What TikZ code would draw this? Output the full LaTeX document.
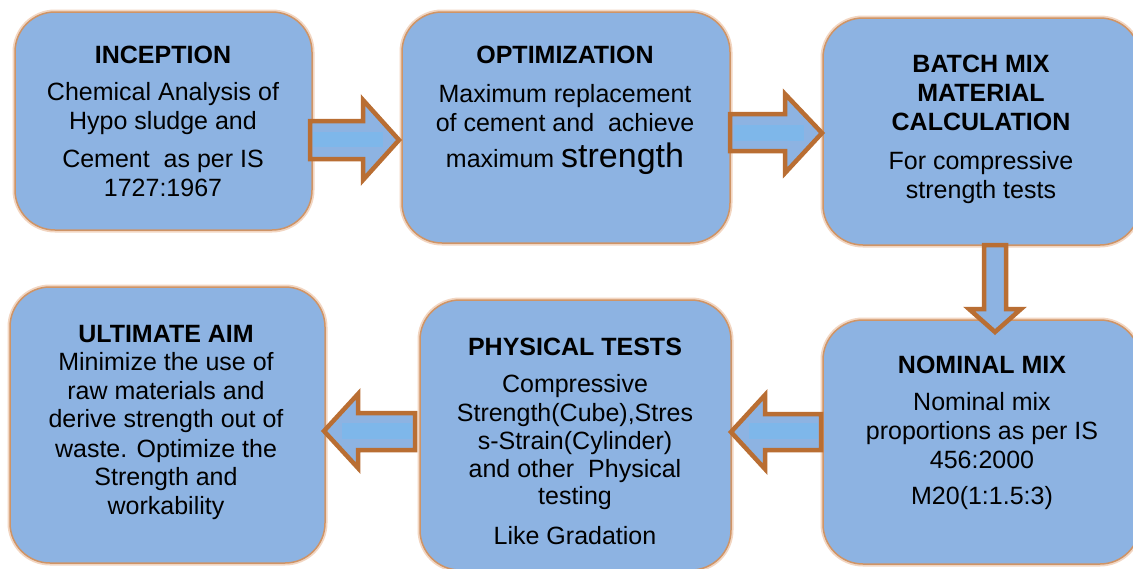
\documentclass[tikz,border=0pt]{standalone}
\usepackage{fontspec}
\setmainfont{Liberation Sans}
\definecolor{boxfill}{HTML}{8DB3E2}
\definecolor{boxline}{HTML}{CF9466}
\definecolor{boxglow}{HTML}{F2D6C2}
\definecolor{arrline}{HTML}{B96E33}
\definecolor{stripe}{HTML}{7EB7EA}
\begin{document}
\begin{tikzpicture}[x=1pt,y=-1pt,
  box/.style={rectangle, rounded corners=40pt, fill=boxfill, draw=boxline, line width=1.5pt,
    preaction={draw=boxglow, line width=5pt}, inner sep=0pt, outer sep=0pt},
  txt/.style={anchor=base, inner sep=0pt, font=\fontsize{25}{29}\selectfont},
  blockarrow/.style={fill=boxfill, draw=arrline, line width=4.5pt, line join=miter},
  band/.style={fill=stripe, draw=none}]
\clip (0,0) rectangle (1133,568);
\fill[white] (0,0) rectangle (1133,568);
% boxes
\node[box, minimum width=297pt, minimum height=218pt] (b1) at (163.5,121) {};
\node[box, minimum width=328pt, minimum height=231pt] (b2) at (566,127.5) {};
\node[box, minimum width=317pt, minimum height=227pt] (b3) at (981.5,131.5) {};
\node[box, minimum width=315pt, minimum height=276pt] (b4) at (167.5,425) {};
\node[box, minimum width=311pt, minimum height=270pt] (b5) at (575.5,435) {};
\node[box, minimum width=317pt, minimum height=244pt] (b6) at (981.5,442) {};
% texts
\node[txt] (t1) at (163,63) {\begin{tabular}[t]{@{}c@{}}\textbf{INCEPTION}\\[8pt]
 Chemical Analysis of\\ Hypo sludge and\\[9pt] Cement\ \ as per IS\\ 1727:1967\end{tabular}};
\node[txt] (t2) at (565,63) {\begin{tabular}[t]{@{}c@{}}\textbf{OPTIMIZATION}\\[10pt]
 Maximum replacement\\ of cement and\ \ achieve\\[3pt] maximum {\fontsize{34}{29}\selectfont strength}\end{tabular}};
\node[txt] (t3) at (981,72) {\begin{tabular}[t]{@{}c@{}}\textbf{BATCH MIX}\\ \textbf{MATERIAL}\\ \textbf{CALCULATION}\\[10pt]
 For compressive\\ strength tests\end{tabular}};
\node[txt] (t4) at (166,342) {\begin{tabular}[t]{@{}c@{}}\textbf{ULTIMATE AIM}\\[-0.5pt]
 Minimize the use of\\[-0.5pt] raw materials and\\[-0.5pt] derive strength out of\\[0.5pt] waste. Optimize the\\[-0.5pt] Strength and\\[-0.5pt] workability\end{tabular}};
\node[txt] (t5) at (575,355) {\begin{tabular}[t]{@{}c@{}}\textbf{PHYSICAL TESTS}\\[8pt]
 Compressive\\ Strength(Cube),Stres\\[-1pt] s-Strain(Cylinder)\\[-1pt] and other\ \ Physical\\[-2pt] testing\\[11pt] Like Gradation\end{tabular}};
\node[txt] (t6) at (982,373) {\begin{tabular}[t]{@{}c@{}}\textbf{NOMINAL MIX}\\[8pt]
 Nominal mix\\ proportions as per IS\\ 456:2000\\[7pt] M20(1:1.5:3)\end{tabular}};
% block arrows
\draw[blockarrow] (310,121) -- (363,121) -- (363,100) -- (399,140) -- (363,180) -- (363,159) -- (310,159) -- cycle;
\fill[band] (313,132) rectangle (383,147);
\draw[blockarrow] (730,114) -- (785,114) -- (785,94) -- (822,133) -- (785,173) -- (785,151) -- (730,151) -- cycle;
\fill[band] (734,125) rectangle (804,141);
\draw[blockarrow] (984,245) -- (1006,245) -- (1006,309) -- (1021,309) -- (995,332) -- (969,309) -- (984,309) -- cycle;
\draw[blockarrow] (821,414) -- (765,414) -- (765,395) -- (731,432) -- (765,469) -- (765,450) -- (821,450) -- cycle;
\fill[band] (749,423) rectangle (818,439);
\draw[blockarrow] (415,413) -- (358,413) -- (358,394) -- (324,431) -- (358,468) -- (358,450) -- (415,450) -- cycle;
\fill[band] (342,423) rectangle (412,439);
\end{tikzpicture}
\end{document}
